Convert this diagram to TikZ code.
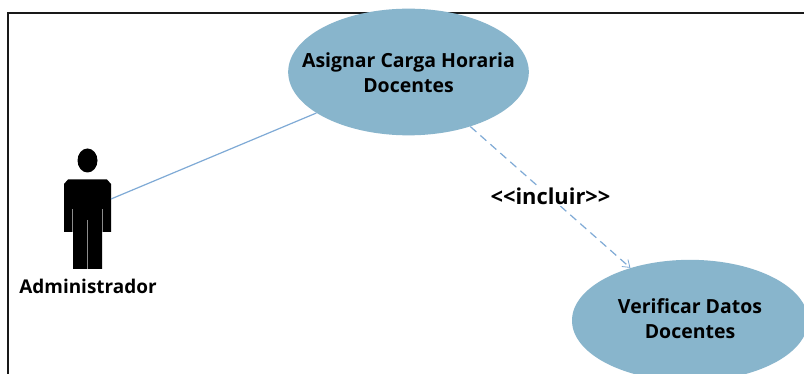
\documentclass[tikz,border=0pt]{standalone}
\usepackage{fontspec}
\setmainfont{Open Sans}
\usetikzlibrary{arrows.meta,shapes.geometric}
\definecolor{uc}{HTML}{88B5CC}
\definecolor{conn}{HTML}{7FAAD6}
\tikzset{
  px/.style={x=0.75pt,y=-0.75pt},
  uctext/.style={align=center,inner sep=0pt,font=\bfseries\fontsize{14.6pt}{18.75pt}\selectfont},
  usecase/.style={ellipse,fill=uc,inner sep=0pt},
  lbl/.style={font=\bfseries\fontsize{14.2pt}{16pt}\selectfont,inner sep=0pt},
  frameline/.style={draw=black!90,line width=1.5pt},
  assoc/.style={draw=conn,line width=0.9pt},
  incl/.style={draw=conn,line width=0.9pt,dash pattern=on 6pt off 4pt,-{Straight Barb[length=5pt,width=7pt,line width=0.6pt]}},
  gapline/.style={draw=black!45,line width=0.5pt}
}
\begin{document}
\begin{tikzpicture}[px]
\useasboundingbox (0,0) rectangle (804,374);
\clip (0,0) rectangle (804,374);
\fill[white] (0,0) rectangle (804,374);
\coordinate (fb) at (8,374);
\coordinate (ft) at (8,13.5);
\coordinate (fr) at (804,13.5);
\draw[frameline] (fb) -- (ft) -- (fr);
\node[usecase,minimum width=180.5pt,minimum height=95pt,label={[uctext,yshift=-0.6pt]center:Asignar Carga Horaria\\Docentes}] (asignar) at (408.5,72) {};
\node[usecase,minimum width=177pt,minimum height=91pt,label={[uctext,yshift=1.2pt]center:Verificar Datos\\Docentes}] (verificar) at (690,320.5) {};
% actor
\fill[black] (87.5,160.5) ellipse (10 and 12);
\fill[black] (64,232) -- (64,184) -- (68,179.5) -- (107,179.5) -- (111,184) -- (111,232) -- (102,232) -- (102,269) -- (73,269) -- (73,232) -- cycle;
\draw[gapline] (72.7,209) -- (72.7,232);
\draw[gapline] (102,209) -- (102,232);
\draw[gapline] (87.5,220) -- (87.5,269);
\coordinate (actorr) at (111,199);
\node[lbl] (admin) at (88,286.5) {Administrador};
\draw[assoc] (actorr) -- (asignar.204);
\draw[incl] (asignar) -- (verificar);
\node[lbl,fill=white,inner sep=1pt,font=\bfseries\fontsize{16.4pt}{18pt}\selectfont] (incl) at (550.5,196.5) {<{}<incluir>{}>};
\end{tikzpicture}
\end{document}
